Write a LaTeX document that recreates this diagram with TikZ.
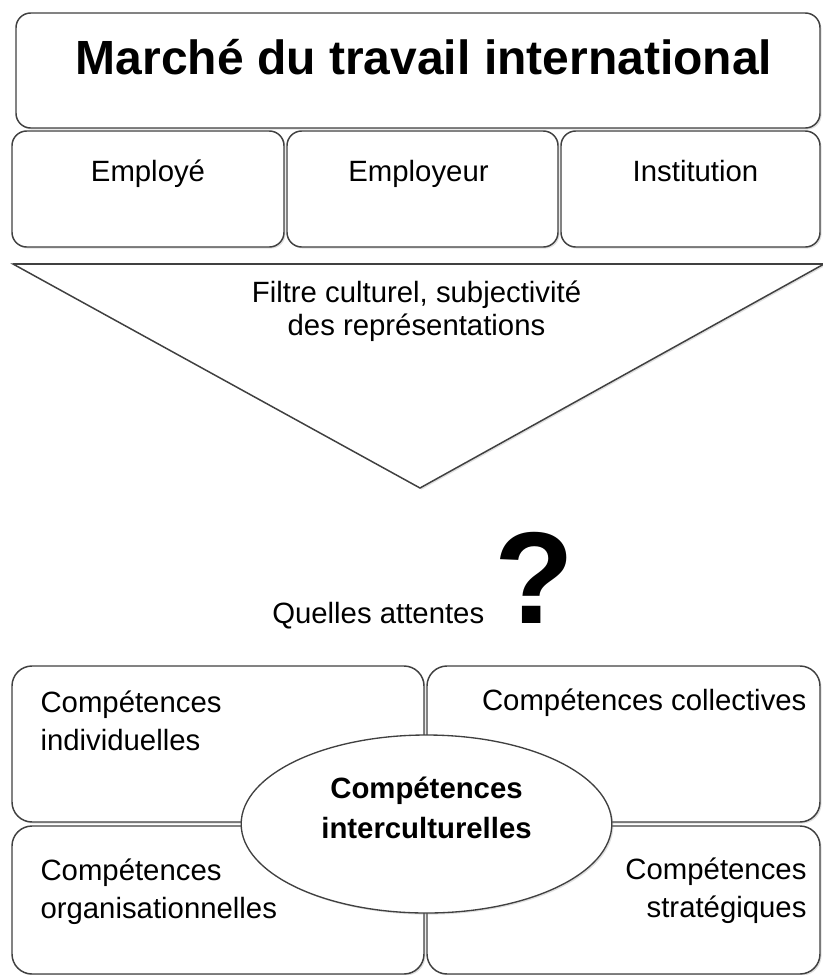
\documentclass[tikz,border=0pt]{standalone}
\usepackage{fontspec}
\setmainfont{Liberation Sans}
\usetikzlibrary{shapes,shapes.geometric,calc,positioning,shadows}
\definecolor{lineGray}{gray}{0.25}
\tikzset{%
	% Specifications for style of nodes:
	base/.style = {rectangle, rounded corners=11pt, draw=lineGray, line width=1.1pt,
		fill=white, inner sep=0pt,
		drop shadow={shadow xshift=1.2pt, shadow yshift=-1.2pt, opacity=0.25}},
	titleBox/.style = {base, minimum width=603pt, minimum height=86.25pt},
	actorBox/.style = {base, minimum height=87pt},
	compBox/.style = {base, rounded corners=15pt},
	centerEllipse/.style = {ellipse, draw=lineGray, line width=1pt, fill=white,
		minimum width=278pt, minimum height=133.5pt, inner sep=0pt,
		drop shadow={shadow xshift=1.2pt, shadow yshift=-1.2pt, opacity=0.25}},
	filtreShape/.style = {draw=lineGray, line width=1.1pt, fill=white,
		drop shadow={shadow xshift=1.2pt, shadow yshift=-1.2pt, opacity=0.25}},
	txt/.style = {inner sep=0pt, font=\fontsize{22}{28.5}\selectfont},
}

\begin{document}
% 1 unit = 1 px of the reference, y going down
\begin{tikzpicture}[x=0.75pt, y=-0.75pt]
\useasboundingbox (0,0) rectangle (822,975);

%% Top: market and its actors
\node (marche)      [titleBox] at (418,70.5) {};
\node (employe)     [actorBox, minimum width=204pt]    at (148,189)   {};
\node (employeur)   [actorBox, minimum width=203.25pt] at (422.5,189) {};
\node (institution) [actorBox, minimum width=194.25pt] at (690.5,189) {};

\node (marcheTxt) [txt, anchor=base, font=\fontsize{36}{43}\selectfont\bfseries]
	at ($(marche.north)+(6,62)$) {Marché du travail international};
\node (employeTxt)     [txt, anchor=base] at ($(employe.north)+(0,51)$)     {Employé};
\node (employeurTxt)   [txt, anchor=base] at ($(employeur.north)+(-4,51)$)  {Employeur};
\node (institutionTxt) [txt, anchor=base] at ($(institution.north)+(5,51)$) {Institution};

%% Cultural filter
\coordinate (filtreL) at (13,264);
\coordinate (filtreR) at (824,264);
\coordinate (filtreApex) at (420,488);
\draw[filtreShape] (filtreL) -- (filtreApex) -- (filtreR) -- cycle;
\draw[line width=2.2pt, draw=lineGray] (filtreL) -- (filtreR);
% (base = last line)
\node (filtreTxt) [txt, anchor=base, align=center, font=\fontsize{22}{24.75}\selectfont]
	at (416.5,335) {Filtre culturel, subjectivité\\des représentations};

%% Question
\node (attentes) [txt, anchor=base west] at (272,623) {Quelles attentes};
\node (question) [txt, anchor=base west, font=\fontsize{98}{98}\selectfont\bfseries]
	at ($(attentes.base east)+(10,0)$) {?};

%% Competences
\node (indiv)   [compBox, minimum width=309pt,    minimum height=117pt] at (218,744)   {};
\node (collect) [compBox, minimum width=294.75pt, minimum height=117pt] at (623.5,744) {};
\node (orga)    [compBox, minimum width=309pt,    minimum height=111pt] at (218,900)   {};
\node (strat)   [compBox, minimum width=294.75pt, minimum height=111pt] at (623.5,900) {};
\node (inter)   [centerEllipse] at (426.5,824) {};

\node (indivTxt)   [txt, anchor=base west, align=left]  at ($(indiv.north west)+(29,85)$)
	{Compétences\\individuelles};
\node (orgaTxt)    [txt, anchor=base west, align=left]  at ($(orga.north west)+(29,93)$)
	{Compétences\\organisationnelles};
\node (collectTxt) [txt, anchor=base east, align=right] at ($(collect.north east)+(-14,45)$)
	{Compétences collectives};
\node (stratTxt)   [txt, anchor=base east, align=right] at ($(strat.north east)+(-14,92)$)
	{Compétences\\stratégiques};
\node (interTxt)   [txt, anchor=base, align=center, font=\fontsize{22}{30}\selectfont\bfseries]
	at ($(inter.center)+(0,14)$) {Compétences\\interculturelles};
\end{tikzpicture}
\end{document}
